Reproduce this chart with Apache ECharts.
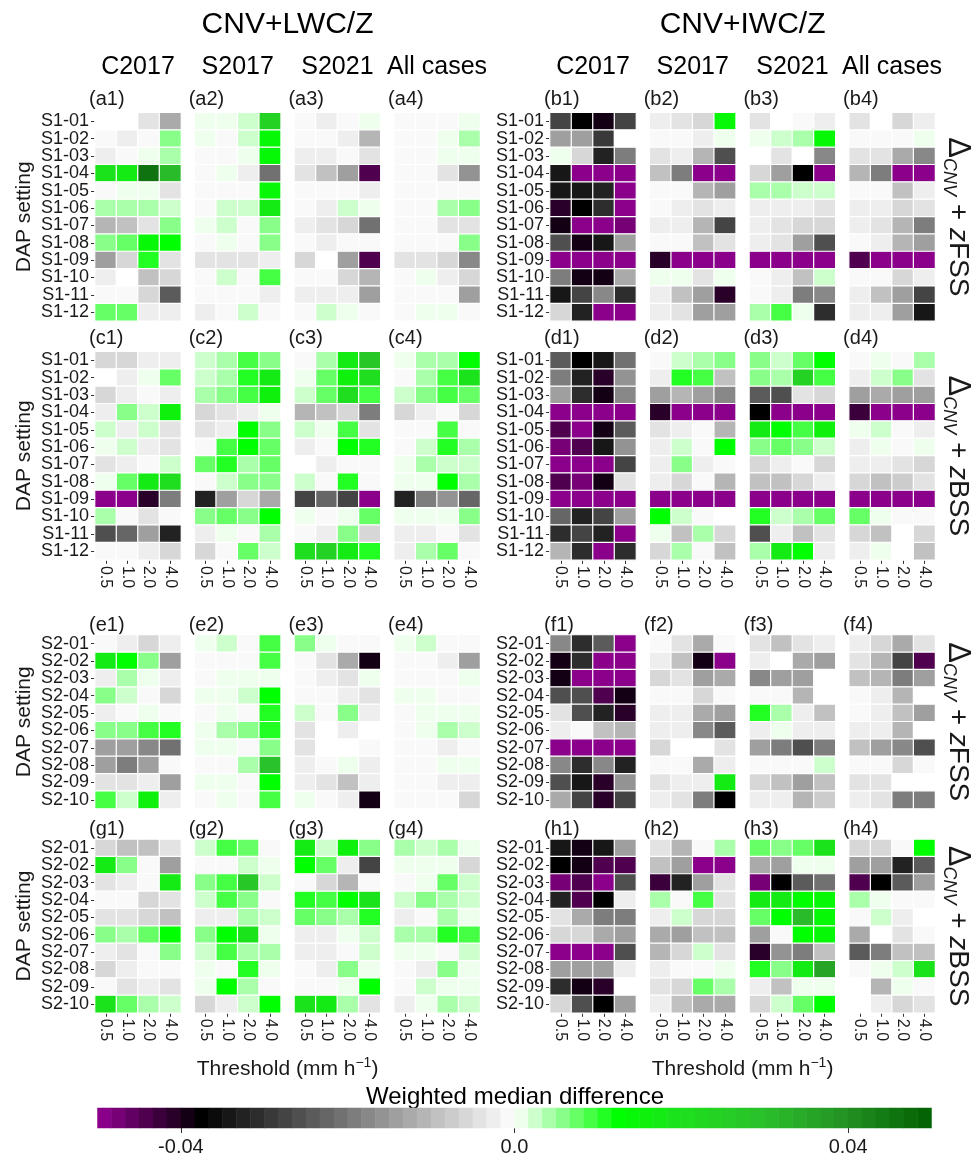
<!DOCTYPE html>
<html>
<head>
<meta charset="utf-8">
<script src="https://cdn.jsdelivr.net/npm/echarts@6/dist/echarts.min.js"></script>
<style>
  html, body { margin: 0; padding: 0; background: #ffffff; }
  #chart { width: 978px; height: 1170px; }
</style>
</head>
<body>
<div id="chart"></div>
<script>
// ---- categories and labels ----
const thresholds = ['0.5', '1.0', '2.0', '4.0'];
const settingsS1 = ['S1-01','S1-02','S1-03','S1-04','S1-05','S1-06','S1-07','S1-08','S1-09','S1-10','S1-11','S1-12'];
const settingsS2 = ['S2-01','S2-02','S2-03','S2-04','S2-05','S2-06','S2-07','S2-08','S2-09','S2-10'];
const caseNames = ['C2017', 'S2017', 'S2021', 'All cases'];
const configNames = ['CNV+LWC/Z', 'CNV+IWC/Z'];
const colorbarTicks = [-0.04, 0, 0.04];

// ---- weighted median differences: one row per DAP setting, one column per threshold ----
// ΔCNV + zFSS, S1 settings, CNV+LWC/Z
const a1 = [[-0.005,-0.005,-0.0037,-0.012],[-0.001,-0.002,-0.001,0.0065],[-0.002,-0.0015,0.0008,0.0043],[0.020,0.017,0.045,0.031],[-0.001,0.0008,0.0008,-0.0045],[0.0043,0.0047,0.0047,0.0026],[-0.010,-0.0085,-0.004,0.0065],[0.0065,0.008,0.014,0.013],[-0.014,-0.0056,0.0105,-0.0037],[-0.002,-0.005,-0.009,-0.0066],[-0.0015,-0.001,-0.0066,-0.024],[0.008,0.008,-0.002,-0.0033]];
const a2 = [[0.0008,0.0008,0.0026,0.024],[0.0008,-0.0005,0.0026,0.014],[-0.0005,-0.0005,0.0008,0.014],[-0.0005,0.0008,-0.0033,-0.021],[-0.0005,-0.0005,-0.0005,0.014],[-0.0005,0.0026,0.0026,0.018],[0.0008,0.0026,-0.0005,0.0065],[-0.0005,0.0008,-0.0015,0.0065],[-0.004,-0.0037,-0.004,-0.0033],[-0.0005,0.0026,-0.0005,0.0097],[-0.0005,-0.0005,-0.0005,-0.0033],[-0.002,-0.0005,0.0026,-0.0005]];
const a3 = [[-0.0008,-0.002,-0.0005,0.0008],[-0.0005,-0.0015,-0.002,-0.011],[-0.0033,-0.0033,-0.0005,-0.0037],[-0.004,-0.0085,-0.015,-0.045],[-0.0005,-0.0005,-0.0015,-0.0033],[-0.0015,-0.002,0.0026,0.0008],[-0.0033,-0.004,-0.0066,-0.021],[-0.0005,-0.002,-0.0015,-0.0005],[-0.0066,-0.005,-0.0138,-0.045],[-0.0015,-0.0015,-0.0056,-0.010],[-0.0033,-0.0033,-0.0033,-0.0138],[-0.0005,0.0026,0.0008,-0.0015]];
const a4 = [[-0.0005,-0.0005,-0.0015,0.0008],[-0.0015,-0.0005,0.0008,0.0043],[-0.0015,-0.0015,0.0008,0.0008],[-0.0005,-0.0015,-0.004,-0.016],[-0.0005,-0.0005,-0.0005,-0.0015],[-0.0005,-0.0005,0.0043,0.0055],[-0.0015,-0.0015,-0.004,-0.004],[-0.0005,-0.0005,-0.0005,0.0055],[-0.004,-0.0037,-0.0056,-0.0172],[-0.0005,0.0008,-0.0033,-0.0056],[-0.0015,-0.0005,-0.0005,-0.0138],[-0.0005,0.0008,0.0008,-0.0015]];
// ΔCNV + zFSS, S1 settings, CNV+IWC/Z
const b1 = [[-0.028,-0.038,-0.040,-0.028],[-0.015,-0.0135,-0.029,-0.005],[0.0008,-0.0056,-0.033,-0.020],[-0.035,-0.05,-0.05,-0.05],[-0.035,-0.035,-0.033,-0.05],[-0.041,-0.038,-0.0305,-0.05],[-0.040,-0.05,-0.05,-0.047],[-0.026,-0.040,-0.035,-0.015],[-0.05,-0.05,-0.05,-0.05],[-0.0185,-0.040,-0.040,-0.0125],[-0.035,-0.028,-0.017,-0.0305],[-0.0056,-0.033,-0.05,-0.05]];
const b2 = [[-0.0033,-0.0045,-0.0056,0.014],[-0.0005,-0.0005,-0.0033,0.0008],[-0.0045,-0.0033,-0.0113,-0.026],[-0.009,-0.0185,-0.05,-0.05],[-0.0005,-0.0005,-0.0113,-0.015],[-0.0015,-0.002,-0.0045,-0.0028],[-0.002,-0.0028,-0.010,-0.028],[-0.0005,-0.0015,-0.0085,-0.0045],[-0.041,-0.05,-0.05,-0.05],[0.0008,0.0008,-0.0037,0.0008],[-0.0033,-0.0085,-0.0135,-0.041],[-0.002,-0.0045,-0.015,-0.0135]];
const b3 = [[-0.004,-0.005,-0.0015,-0.0033],[0.0008,0.0026,0.0043,0.014],[-0.005,-0.004,-0.005,-0.0172],[-0.0056,-0.015,-0.038,-0.05],[0.0043,0.0043,0.0026,0.0026],[-0.0028,-0.002,-0.0033,-0.0037],[-0.0033,-0.0045,-0.0066,-0.006],[-0.0033,-0.0045,-0.0138,-0.026],[-0.05,-0.05,-0.05,-0.05],[-0.0005,-0.002,-0.009,0.0026],[-0.0015,-0.0033,-0.0185,-0.0172],[0.0043,0.0097,0.0008,-0.0305]];
const b4 = [[-0.004,-0.005,-0.0066,-0.002],[-0.0005,-0.0005,-0.0015,0.0008],[-0.004,-0.004,-0.012,-0.0172],[-0.010,-0.0185,-0.05,-0.05],[-0.0005,-0.0005,-0.0085,-0.0028],[-0.002,-0.002,-0.0066,-0.0045],[-0.0028,-0.0045,-0.0113,-0.020],[-0.0015,-0.002,-0.010,-0.015],[-0.045,-0.05,-0.05,-0.05],[-0.0005,-0.0005,-0.0066,-0.002],[-0.0028,-0.0085,-0.015,-0.028],[-0.002,-0.0033,-0.0138,-0.035]];
// ΔCNV + zBSS, S1 settings, CNV+LWC/Z
const c1 = [[-0.0056,-0.0056,-0.002,-0.002],[-0.005,-0.002,0.0008,0.008],[-0.0066,-0.0033,-0.0015,-0.0028],[-0.002,0.0065,0.0026,0.016],[0.0026,-0.0033,0.0026,-0.0045],[0.0008,0.0026,-0.002,-0.004],[-0.0045,-0.002,-0.0015,0.0026],[0.0008,0.008,0.017,0.021],[-0.05,-0.05,-0.041,-0.0185],[0.0043,-0.0015,-0.004,-0.0005],[-0.026,-0.022,-0.015,-0.033],[-0.0005,-0.0005,-0.0028,-0.006]];
const c2 = [[0.0026,0.0043,0.0097,0.0065],[0.0026,0.0043,0.0115,0.017],[0.0043,0.0065,0.0097,0.016],[-0.0056,-0.004,-0.0028,0.0008],[-0.004,-0.0033,0.013,0.0065],[-0.0005,0.0097,0.013,0.008],[0.008,0.0115,0.0043,0.008],[-0.0005,0.0026,0.0065,0.0065],[-0.033,-0.015,-0.006,-0.012],[0.0065,0.008,0.0065,0.013],[-0.0028,0.0008,-0.0015,0.0043],[-0.006,-0.0015,0.008,0.0026]];
const c3 = [[-0.0005,0.0043,0.017,0.027],[0.0008,0.008,0.016,0.021],[0.0026,0.008,0.021,0.0097],[-0.011,-0.0085,-0.006,-0.0185],[0.0026,0.0008,0.0097,-0.004],[-0.002,-0.0005,0.013,0.0115],[-0.005,-0.0033,-0.0015,-0.0005],[0.0026,-0.0005,0.0115,-0.0005],[-0.028,-0.022,-0.028,-0.05],[0.0008,-0.0005,0.0008,0.008],[-0.0005,-0.002,0.0065,-0.0066],[0.021,0.024,0.017,0.0115]];
const c4 = [[0.0008,0.0043,0.0043,0.013],[-0.0005,0.0043,0.0097,0.019],[0.0026,0.0065,0.0097,0.008],[-0.0056,-0.0028,-0.0015,-0.0056],[-0.0015,-0.0005,0.0097,-0.0015],[-0.0005,0.0026,0.0115,0.0043],[0.0008,0.0043,0.0026,0.0026],[0.0008,0.0008,0.013,0.0043],[-0.033,-0.0185,-0.016,-0.022],[0.0008,0.0008,0.0008,0.0065],[-0.0028,-0.002,-0.0015,-0.004],[-0.002,0.0043,0.008,-0.0005]];
// ΔCNV + zBSS, S1 settings, CNV+IWC/Z
const d1 = [[-0.0234,-0.038,-0.035,-0.021],[-0.0185,-0.033,-0.041,-0.0165],[-0.0138,-0.0305,-0.040,-0.0172],[-0.05,-0.05,-0.05,-0.05],[-0.0435,-0.05,-0.040,-0.0234],[-0.047,-0.0435,-0.035,-0.0165],[-0.05,-0.05,-0.05,-0.028],[-0.0435,-0.047,-0.039,-0.0045],[-0.05,-0.05,-0.05,-0.05],[-0.022,-0.033,-0.028,-0.0135],[-0.0305,-0.028,-0.033,-0.05],[-0.010,-0.0305,-0.05,-0.0305]];
const d2 = [[-0.0015,0.0026,0.0043,0.0065],[-0.0033,0.0115,0.0097,-0.0085],[-0.0138,-0.010,-0.0135,-0.0172],[-0.041,-0.05,-0.05,-0.05],[-0.004,-0.0028,-0.0015,-0.010],[-0.002,0.0026,-0.0005,0.013],[-0.0028,0.0065,-0.002,-0.0015],[-0.002,-0.006,-0.0005,-0.010],[-0.05,-0.05,-0.05,-0.05],[0.013,0.0026,-0.0005,-0.005],[0.0008,-0.009,0.0043,-0.0056],[-0.0066,0.0043,-0.0005,-0.0085]];
const d3 = [[0.0065,0.0026,0.008,0.013],[0.0065,0.0043,0.024,0.0097],[-0.0234,-0.026,-0.0037,-0.006],[-0.038,-0.05,-0.05,-0.05],[0.017,0.013,0.0097,0.016],[0.0065,0.008,0.0065,0.0026],[-0.006,-0.002,-0.0005,-0.006],[-0.0085,-0.0085,-0.006,-0.0028],[-0.05,-0.05,-0.05,-0.05],[0.0115,0.0026,0.0043,0.008],[-0.026,-0.002,-0.009,-0.0045],[0.0043,0.017,0.013,-0.0028]];
const d4 = [[-0.0015,0.0008,-0.0005,0.0043],[-0.002,0.0026,0.0065,-0.004],[-0.015,-0.012,-0.0138,-0.0135],[-0.042,-0.05,-0.05,-0.05],[0.0008,0.0026,-0.0015,-0.002],[-0.002,0.0008,-0.0015,0.0008],[-0.0033,-0.0028,-0.004,-0.0056],[-0.006,-0.0095,-0.0078,-0.004],[-0.05,-0.05,-0.05,-0.05],[0.008,0.0008,-0.0005,-0.0005],[-0.0056,-0.0085,-0.005,-0.0056],[-0.002,0.0008,-0.005,-0.0085]];
// ΔCNV + zFSS, S2 settings, CNV+LWC/Z
const e1 = [[-0.0005,-0.0033,-0.006,-0.0028],[0.017,0.013,0.0065,-0.0138],[-0.002,0.0043,0.0008,-0.0028],[0.0065,0.0026,-0.0015,-0.0056],[-0.0033,-0.0005,0.0008,-0.0005],[0.0065,0.0065,0.0097,0.0115],[-0.0138,-0.0138,-0.0172,-0.021],[-0.0138,-0.0185,-0.0138,-0.0005],[-0.004,-0.004,-0.0028,-0.0138],[0.0097,0.0026,0.016,-0.002]];
const e2 = [[0.0008,0.0026,-0.0005,0.0097],[-0.0015,-0.0005,-0.0005,0.0097],[-0.0005,0.0008,0.0008,0.0008],[0.0008,0.0008,0.0026,0.013],[-0.0005,0.0008,-0.0015,0.0105],[0.0008,0.0043,0.0065,0.0105],[0.0008,0.0008,-0.0005,0.0065],[-0.0015,-0.0005,0.0043,0.029],[0.0008,0.0008,-0.0015,0.013],[-0.0015,0.0008,-0.0005,0.0097]];
const e3 = [[0.0065,0.0008,-0.0015,-0.0015],[-0.0005,-0.0045,-0.012,-0.039],[-0.0015,-0.002,-0.004,0.0008],[-0.0005,-0.0015,-0.002,-0.004],[0.0026,-0.0015,0.0065,-0.002],[-0.004,-0.005,-0.002,-0.005],[-0.004,-0.005,-0.005,-0.0015],[-0.0028,-0.0015,0.0008,-0.0028],[-0.002,-0.0045,-0.0085,-0.0028],[0.0008,-0.0005,-0.002,-0.039]];
const e4 = [[0.0008,0.0026,-0.0015,-0.0005],[-0.0005,-0.0005,-0.002,-0.0138],[-0.0005,-0.0005,-0.0005,0.0008],[0.0008,0.0008,-0.0005,-0.0005],[-0.0005,0.0008,0.0008,0.0008],[-0.0005,0.0008,0.0043,0.0026],[-0.0015,-0.0015,-0.002,-0.0015],[-0.0015,-0.0005,0.0008,0.0008],[-0.0005,-0.0015,-0.0028,-0.002],[-0.0005,-0.0005,-0.0005,-0.0066]];
// ΔCNV + zFSS, S2 settings, CNV+IWC/Z
const f1 = [[-0.0172,-0.0305,-0.0234,-0.05],[-0.039,-0.0305,-0.05,-0.05],[-0.039,-0.05,-0.05,-0.05],[-0.026,-0.026,-0.0435,-0.039],[-0.004,-0.026,-0.033,-0.041],[-0.002,-0.0015,-0.0085,-0.010],[-0.05,-0.05,-0.05,-0.05],[-0.0172,-0.0305,-0.0172,-0.033],[-0.026,-0.035,-0.041,-0.0165],[-0.0125,-0.028,-0.041,-0.028]];
const f2 = [[-0.0015,-0.004,-0.0125,-0.0005],[-0.0033,-0.0085,-0.039,-0.05],[-0.0066,-0.0045,-0.015,-0.012],[-0.0005,-0.0015,-0.006,-0.0005],[-0.002,-0.0028,-0.012,-0.0135],[-0.0028,-0.002,-0.0172,-0.0234],[-0.0056,-0.005,-0.005,-0.004],[-0.0005,-0.0015,-0.012,-0.0033],[-0.0037,-0.0028,-0.0033,0.017],[-0.002,-0.004,-0.020,-0.038]];
const f3 = [[-0.004,-0.0085,-0.0045,-0.0028],[-0.0028,-0.005,-0.012,-0.015],[-0.0172,-0.0135,-0.0135,-0.005],[-0.0005,-0.0015,-0.010,-0.005],[0.0115,0.0043,-0.002,-0.0095],[-0.002,0.0008,-0.0028,-0.002],[-0.0138,-0.0185,-0.026,-0.0185],[-0.0015,-0.0005,-0.0015,0.0026],[-0.0056,-0.0095,-0.0138,-0.0095],[-0.0028,-0.002,-0.010,-0.0078]];
const f4 = [[-0.0028,-0.006,-0.012,-0.004],[-0.004,-0.011,-0.028,-0.0435],[-0.0085,-0.011,-0.0185,-0.0135],[-0.0005,-0.002,-0.011,-0.005],[-0.0005,-0.002,-0.0095,-0.015],[-0.002,-0.002,-0.011,-0.005],[-0.0085,-0.0135,-0.0172,-0.026],[-0.0005,-0.0015,-0.006,-0.0015],[-0.004,-0.0045,-0.005,-0.005],[-0.0028,-0.004,-0.0185,-0.020]];
// ΔCNV + zBSS, S2 settings, CNV+LWC/Z
const g1 = [[-0.0066,-0.0085,-0.0085,-0.004],[0.017,0.0065,-0.0005,-0.015],[-0.004,-0.002,-0.0005,0.017],[-0.0015,-0.0015,-0.0066,-0.004],[-0.004,-0.004,-0.006,-0.0085],[0.0065,0.0047,0.008,0.013],[-0.0028,-0.004,-0.0005,0.0065],[-0.0056,-0.0028,-0.0005,-0.0015],[-0.0015,-0.004,-0.002,-0.004],[0.020,0.008,0.0043,0.0026]];
const g2 = [[0.0026,0.0097,0.008,-0.0005],[-0.0015,-0.0005,0.0026,0.0008],[0.0065,0.0097,0.027,0.0026],[0.0026,0.0097,0.0065,-0.0005],[-0.002,-0.002,0.0043,0.0026],[0.0065,0.013,0.020,0.0008],[0.0026,0.0097,0.0043,0.0043],[0.0008,-0.0015,0.0115,0.0008],[0.0008,0.013,0.0043,-0.0015],[-0.0056,-0.0033,0.0026,0.013]];
const g3 = [[0.017,0.0026,0.016,0.0065],[0.013,0.008,-0.002,-0.028],[-0.0015,-0.006,-0.0113,-0.0015],[0.0115,0.0097,0.013,0.019],[0.008,0.0065,0.0043,0.0115],[-0.002,-0.002,0.0008,0.0026],[-0.0033,-0.0033,-0.0005,0.0026],[-0.0005,-0.002,0.0065,0.0008],[-0.0015,-0.0015,0.0008,0.013],[0.020,0.017,0.0043,-0.0045]];
const g4 = [[0.0043,0.0026,0.0043,0.0008],[0.0008,0.0008,0.0008,-0.0056],[-0.0005,0.0008,0.008,0.0026],[0.0026,0.0065,0.0043,0.0026],[-0.002,-0.0015,0.0043,0.0008],[0.0043,0.0043,0.0115,0.0097],[0.0008,0.0008,-0.0005,0.0026],[-0.0015,-0.002,0.0065,0.0008],[-0.0005,0.0026,0.0008,0.0008],[-0.002,0.0008,0.0043,0.0026]];
// ΔCNV + zBSS, S2 settings, CNV+IWC/Z
const h1 = [[-0.035,-0.039,-0.035,-0.0135],[-0.038,-0.039,-0.045,-0.0435],[-0.047,-0.045,-0.05,-0.026],[-0.033,-0.0435,-0.038,-0.002],[-0.004,-0.012,-0.0185,-0.0185],[-0.006,-0.0056,-0.012,-0.0135],[-0.05,-0.05,-0.05,-0.026],[-0.015,-0.0135,-0.0135,-0.002],[-0.0305,-0.040,-0.041,-0.005],[-0.0056,-0.026,-0.038,-0.015]];
const h2 = [[-0.004,-0.011,-0.0015,0.0043],[-0.009,-0.0138,-0.05,-0.05],[-0.042,-0.033,-0.015,-0.0037],[0.0043,-0.0005,0.0097,-0.004],[-0.002,0.0026,-0.006,-0.006],[-0.012,-0.0135,-0.0095,-0.0095],[-0.010,-0.006,0.0026,-0.0045],[-0.002,-0.0015,-0.0015,0.0008],[-0.0045,-0.0056,0.008,0.0043],[-0.002,-0.0085,-0.012,-0.012]];
const h3 = [[0.008,0.0065,0.008,0.020],[-0.012,-0.0135,0.0008,0.0008],[-0.047,-0.038,-0.0234,-0.021],[0.017,0.017,0.013,0.014],[0.008,0.013,0.031,0.014],[-0.015,-0.0005,0.013,0.014],[-0.041,-0.0165,-0.0185,-0.0095],[0.0115,0.0065,0.017,0.036],[-0.002,-0.009,0.0008,0.0008],[-0.006,0.0026,0.008,0.013]];
const h4 = [[-0.0056,-0.0066,-0.0005,0.013],[-0.0138,-0.0138,-0.033,-0.0234],[-0.0435,-0.038,-0.0234,-0.015],[0.0043,0.0008,-0.0015,-0.0015],[-0.0005,0.0026,-0.0033,-0.005],[-0.012,-0.005,-0.004,-0.0005],[-0.0234,-0.0185,-0.009,-0.0095],[-0.0005,0.0008,0.0026,0.020],[-0.005,-0.011,0.0008,-0.0015],[-0.005,-0.0033,-0.0066,-0.0045]];

// ---- colour scale: purple -> black -> white -> bright green -> dark green, 60 steps ----
const VMIN = -0.05, VMAX = 0.05, NBIN = 60, STEP = (VMAX - VMIN) / NBIN;
const palette = [
  [-0.0492, [139, 0, 139]],
  [-0.0375, [0, 0, 0]],
  [0.0, [255, 255, 255]],
  [0.0125, [0, 255, 0]],
  [0.02, [30, 224, 30]],
  [0.03, [43, 191, 43]],
  [0.04, [35, 144, 35]],
  [0.05, [0, 96, 0]]
];
function colorAt(v) {
  if (v <= palette[0][0]) return rgb(palette[0][1]);
  for (let i = 1; i < palette.length; i++) {
    if (v <= palette[i][0]) {
      const [v0, c0] = palette[i - 1], [v1, c1] = palette[i];
      const t = (v - v0) / (v1 - v0);
      return rgb(c0.map((c, k) => c + (c1[k] - c) * t));
    }
  }
  return rgb(palette[palette.length - 1][1]);
}
function rgb(c) { return 'rgb(' + c.map(x => Math.round(x)).join(',') + ')'; }

const pieces = [];
const binCenters = [];
for (let i = 0; i < NBIN; i++) {
  const lo = VMIN + i * STEP, hi = lo + STEP;
  const p = { color: colorAt(lo + STEP / 2) };
  if (i > 0) p.gte = lo;
  if (i < NBIN - 1) p.lt = hi;
  pieces.push(p);
  binCenters.push(+(lo + STEP / 2).toFixed(6));
}

// ---- layout ----
const FONT = '"Liberation Sans", Arial, Helvetica, sans-serif';
const PANEL_W = 86, PANEL_STEP = 99.7, ROW_H = 17.35;
const SIDE_X = [95, 550];
const BAND_TOP = [112.7, 351.7, 635, 839.3];
const LABEL_DY = [13, 13, 10, 10];
const blocks = [
  { letter: 'a', side: 0, band: 0, rows: settingsS1, panels: [a1, a2, a3, a4], xLabels: false },
  { letter: 'b', side: 1, band: 0, rows: settingsS1, panels: [b1, b2, b3, b4], xLabels: false },
  { letter: 'c', side: 0, band: 1, rows: settingsS1, panels: [c1, c2, c3, c4], xLabels: true },
  { letter: 'd', side: 1, band: 1, rows: settingsS1, panels: [d1, d2, d3, d4], xLabels: true },
  { letter: 'e', side: 0, band: 2, rows: settingsS2, panels: [e1, e2, e3, e4], xLabels: false },
  { letter: 'f', side: 1, band: 2, rows: settingsS2, panels: [f1, f2, f3, f4], xLabels: false },
  { letter: 'g', side: 0, band: 3, rows: settingsS2, panels: [g1, g2, g3, g4], xLabels: true },
  { letter: 'h', side: 1, band: 3, rows: settingsS2, panels: [h1, h2, h3, h4], xLabels: true }
];
const rowLabelsRight = ['{d|Δ}{s|CNV}{n| + }{i|z}{n|FSS}', '{d|Δ}{s|CNV}{n| + }{i|z}{n|BSS}'];

const grids = [], xAxes = [], yAxes = [], series = [], graphics = [];
const TEXT = '#1a1a1a';

blocks.forEach(b => {
  const top = BAND_TOP[b.band];
  const height = b.rows.length * ROW_H;
  b.panels.forEach((vals, k) => {
    const left = SIDE_X[b.side] + k * PANEL_STEP;
    const gi = grids.length;
    grids.push({ left: left, top: top, width: PANEL_W, height: height, outerBoundsMode: 'none', containLabel: false });
    xAxes.push({
      type: 'category', gridIndex: gi, data: thresholds, position: 'bottom',
      axisLine: { show: false }, splitLine: { show: false },
      axisTick: { show: b.xLabels, length: 4, alignWithLabel: true, lineStyle: { color: '#333', width: 1 } },
      axisLabel: { show: b.xLabels, rotate: -90, fontSize: 16, color: TEXT, margin: 6, fontFamily: FONT, interval: 0 }
    });
    yAxes.push({
      type: 'category', gridIndex: gi, data: b.rows, inverse: true,
      axisLine: { show: false }, splitLine: { show: false },
      axisTick: { show: k === 0, length: 4, alignWithLabel: true, lineStyle: { color: '#333', width: 1 } },
      axisLabel: { show: k === 0, fontSize: 18, color: TEXT, margin: 6, fontFamily: FONT, interval: 0 }
    });
    const data = [];
    vals.forEach((row, r) => row.forEach((v, c) => data.push([c, r, v])));
    series.push({
      type: 'heatmap', xAxisIndex: gi, yAxisIndex: gi, data: data,
      itemStyle: { borderColor: '#ffffff', borderWidth: 1.2 },
      emphasis: { disabled: true }, silent: true
    });
    graphics.push({
      type: 'text', x: left - 6, y: top - LABEL_DY[b.band],
      style: { text: '(' + b.letter + (k + 1) + ')', fontSize: 20, fontFamily: FONT, fill: TEXT,
               align: 'left', verticalAlign: 'middle', textAlign: 'left', textVerticalAlign: 'middle' }
    });
  });
  const cy = top + height / 2;
  if (b.side === 0) {
    graphics.push({
      type: 'text', x: 24, y: cy, rotation: Math.PI / 2,
      style: { text: 'DAP setting', fontSize: 21, fontFamily: FONT, fill: TEXT,
               align: 'center', verticalAlign: 'middle', textAlign: 'center', textVerticalAlign: 'middle' }
    });
  } else {
    graphics.push({
      type: 'text', x: 958, y: cy, rotation: -Math.PI / 2,
      style: {
        text: rowLabelsRight[b.band % 2], fontFamily: FONT, fill: TEXT,
        align: 'center', verticalAlign: 'middle', textAlign: 'center', textVerticalAlign: 'middle',
        rich: {
          d: { fontSize: 31, fontFamily: FONT, fill: TEXT, lineHeight: 36 },
          s: { fontSize: 18, fontStyle: 'italic', fontFamily: FONT, fill: TEXT, lineHeight: 18, verticalAlign: 'bottom' },
          n: { fontSize: 28, fontFamily: FONT, fill: TEXT, lineHeight: 36 },
          i: { fontSize: 28, fontStyle: 'italic', fontFamily: FONT, fill: TEXT, lineHeight: 36 }
        }
      }
    });
  }
});

// titles
configNames.forEach((name, s) => {
  const x0 = SIDE_X[s];
  const cx = x0 + (3 * PANEL_STEP + PANEL_W) / 2;
  graphics.push({ type: 'text', x: cx, y: 25,
    style: { text: name, fontSize: 30, fontFamily: FONT, fill: '#000', align: 'center', verticalAlign: 'middle', textAlign: 'center', textVerticalAlign: 'middle' } });
  caseNames.forEach((cn, k) => {
    graphics.push({ type: 'text', x: x0 + k * PANEL_STEP + PANEL_W / 2, y: 67,
      style: { text: cn, fontSize: 25, fontFamily: FONT, fill: '#000', align: 'center', verticalAlign: 'middle', textAlign: 'center', textVerticalAlign: 'middle' } });
  });
  graphics.push({ type: 'text', x: cx, y: 1069,
    style: {
      text: '{n|Threshold (mm h}{p|−1}{n|)}', fill: TEXT, fontFamily: FONT,
      align: 'center', verticalAlign: 'middle', textAlign: 'center', textVerticalAlign: 'middle',
      rich: {
        n: { fontSize: 21, fontFamily: FONT, fill: TEXT, lineHeight: 26 },
        p: { fontSize: 14, fontFamily: FONT, fill: TEXT, lineHeight: 14, verticalAlign: 'top' }
      }
    } });
});

graphics.push({ type: 'text', x: 515, y: 1097,
  style: { text: 'Weighted median difference', fontSize: 24, fontFamily: FONT, fill: '#000', align: 'center', verticalAlign: 'middle', textAlign: 'center', textVerticalAlign: 'middle' } });

// ---- colour bar ----
const cbGrid = grids.length;
grids.push({ left: 97.5, width: 834, top: 1108, height: 20, outerBoundsMode: 'none', containLabel: false });
xAxes.push({ type: 'category', gridIndex: cbGrid, data: binCenters.map(String), show: false, position: 'top' });
xAxes.push({
  type: 'value', gridIndex: cbGrid, min: VMIN, max: VMAX, position: 'bottom',
  axisLine: { show: false }, splitLine: { show: false },
  axisTick: { show: true, length: 5, customValues: colorbarTicks, lineStyle: { color: '#333' } },
  axisLabel: { show: true, customValues: colorbarTicks, fontSize: 20, color: TEXT, margin: 9, fontFamily: FONT,
               formatter: v => (Math.abs(v) < 1e-9 ? '0.0' : v.toFixed(2)) }
});
yAxes.push({ type: 'category', gridIndex: cbGrid, data: ['bar'], show: false });
series.push({
  type: 'heatmap', xAxisIndex: xAxes.length - 2, yAxisIndex: yAxes.length - 1,
  data: binCenters.map((v, i) => [i, 0, v]),
  emphasis: { disabled: true }, silent: true
});

const chart = echarts.init(document.getElementById('chart'), null, { renderer: 'canvas' });
chart.setOption({
  animation: false,
  backgroundColor: '#ffffff',
  textStyle: { fontFamily: FONT },
  grid: grids,
  xAxis: xAxes,
  yAxis: yAxes,
  visualMap: {
    type: 'piecewise', show: false, dimension: 2,
    seriesIndex: series.map((s, i) => i),
    pieces: pieces
  },
  series: series,
  graphic: { elements: graphics }
});
</script>
</body>
</html>
